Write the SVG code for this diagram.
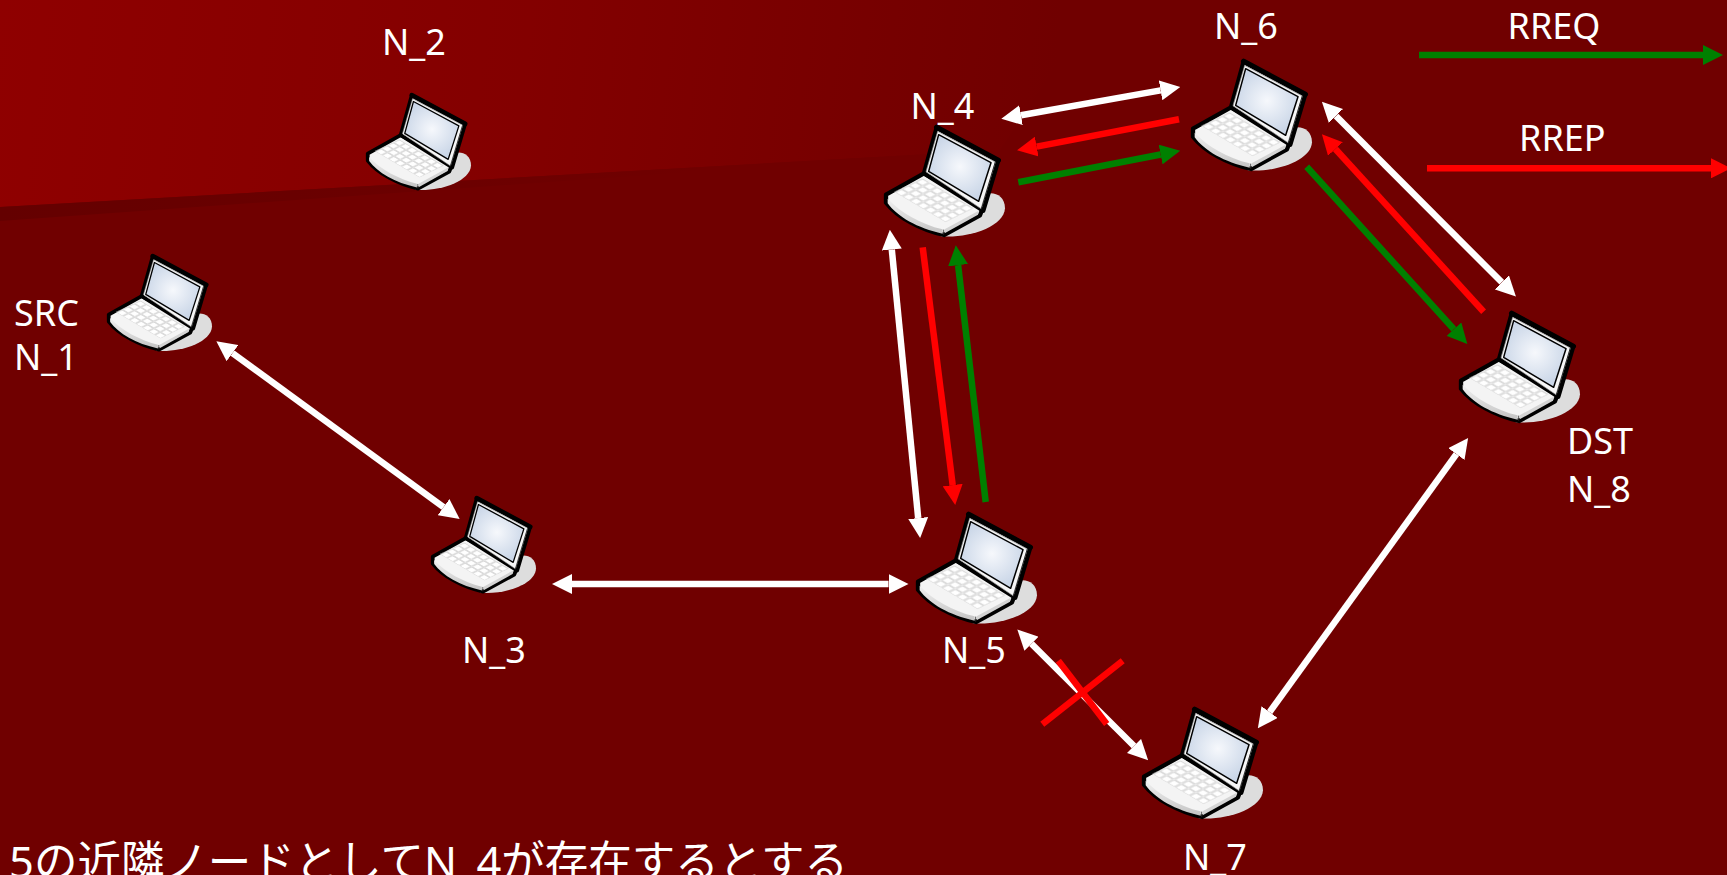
<svg xmlns="http://www.w3.org/2000/svg" width="1727" height="875" viewBox="0 0 1727 875">
<style>
.lb{font-family:"Noto Sans","Open Sans",sans-serif;font-size:36px;fill:#fff}
.w{stroke:#fff;stroke-width:6.5;fill:none;marker-start:url(#hw);marker-end:url(#hw)}
.r{stroke:#f00;stroke-width:6.5;fill:none;marker-end:url(#hr)}
.g{stroke:#008000;stroke-width:6.5;fill:none;marker-end:url(#hg)}
.x{stroke:#f00;stroke-width:6.5;fill:none}
.o{stroke:#000;stroke-linejoin:round;stroke-linecap:round}
</style>
<defs>
<linearGradient id="top" gradientUnits="userSpaceOnUse" x1="0" y1="0" x2="1050" y2="120">
<stop offset="0" stop-color="#8f0000"/><stop offset="0.5" stop-color="#830000"/><stop offset="1" stop-color="#700000"/>
</linearGradient>
<linearGradient id="band" gradientUnits="userSpaceOnUse" x1="0" y1="0" x2="700" y2="0">
<stop offset="0" stop-color="#640000"/><stop offset="1" stop-color="#700000"/>
</linearGradient>
<radialGradient id="scr" gradientUnits="userSpaceOnUse" cx="658" cy="330" r="100">
<stop offset="0" stop-color="#f6f8fc"/><stop offset="1" stop-color="#cbd7e8"/>
</radialGradient>
<linearGradient id="lip" x1="0" y1="0" x2="0" y2="1">
<stop offset="0" stop-color="#f0f0f0"/><stop offset="1" stop-color="#c4c4c4"/>
</linearGradient>
<pattern id="keys" patternUnits="userSpaceOnUse" width="1" height="1" patternTransform="matrix(22 13 -21 10.5 545 365)">
<rect x="0.1" y="0.1" width="0.8" height="0.8" fill="#fff" stroke="#c4c4c4" stroke-width="0.08"/>
</pattern>
<marker id="hw" markerUnits="userSpaceOnUse" markerWidth="20" markerHeight="20" refX="0" refY="10" orient="auto-start-reverse" viewBox="0 0 20 20"><path d="M0 0L20 10L0 20Z" fill="#fff"/></marker>
<marker id="hr" markerUnits="userSpaceOnUse" markerWidth="20" markerHeight="20" refX="0" refY="10" orient="auto" viewBox="0 0 20 20"><path d="M0 0L20 10L0 20Z" fill="#f00"/></marker>
<marker id="hg" markerUnits="userSpaceOnUse" markerWidth="20" markerHeight="20" refX="0" refY="10" orient="auto" viewBox="0 0 20 20"><path d="M0 0L20 10L0 20Z" fill="#008000"/></marker>
<g id="laptop" transform="scale(0.3333) translate(-430 -208)">
<path d="M600 539C680 546 790 512 793 455C793 425 772 410 750 410L600 500Z" fill="#ddd"/>
<path class="o" stroke-width="13" fill="#f4f4f4" d="M436 414L550 350L728 450L718 476L610 535C540 520 470 482 436 438Z"/>
<path d="M460 405L545 365L700 455L615 497Z" fill="url(#keys)"/>
<path d="M441 426C480 468 540 502 606 518L606 531C530 515 470 480 441 440Z" fill="url(#lip)"/>
<path d="M612 518L714 462L712 474L612 530Z" fill="#d4d4d4"/>
<path d="M609 519V534" stroke="#333" stroke-width="2.5"/>
<path class="o" stroke-width="13" fill="#e8e8e8" d="M588 213L773 311L728 462L550 350Z"/>
<path d="M588 212L773 311" stroke="#000" stroke-width="16" stroke-linecap="round"/>
<path d="M591 224L764 316L721 456L556 345Z" fill="#f6f6f6" stroke="#888" stroke-width="2"/>
<path stroke="#000" stroke-width="4.5" stroke-linejoin="round" fill="url(#scr)" d="M594 234L751 318L714 434L564 344Z"/>
<path d="M764 316L722 458" stroke="#222" stroke-width="3"/>
</g>
</defs>
<rect id="bg" width="1727" height="875" fill="#700000"/>
<path d="M0 0H1100V0L1000 150L0 207Z" fill="url(#top)"/>
<path d="M0 207L1000 150L0 221Z" fill="url(#band)"/>

<g id="connectors">
<path class="w" d="M1021 115.2L1160.6 90.4"/>
<path class="r" d="M1179 119.3L1036.7 146.6"/>
<path class="g" d="M1018.3 182.3L1160.6 154.5"/>
<path class="w" d="M1336 116L1501.8 282.3"/>
<path class="r" d="M1483.6 311.7L1335.4 149"/>
<path class="g" d="M1306.7 166.7L1453.9 329.2"/>
<path class="w" d="M891.8 249.6L918.2 518.1"/>
<path class="r" d="M922.7 247.3L952.7 485.1"/>
<path class="g" d="M985.7 502L958.1 265.2"/>
<path class="w" d="M232.5 353.1L443.5 507.1"/>
<path class="w" d="M572 584H888.5"/>
<path class="w" d="M1031.5 643.7L1134 746"/>
<path class="w" d="M1269.6 712.1L1456.4 454.1"/>
<path class="x" d="M1058.3 660.7L1106.7 724"/>
<path class="x" d="M1042.3 724.3L1122.7 660.7"/>
<path class="g" d="M1419 55H1703"/>
<path class="r" d="M1427 168.3H1711"/>
</g>

<g id="N_1"><use href="#laptop" transform="translate(107 255) scale(0.868)"/><text class="lb" x="14" y="325.5">SRC</text><text class="lb" x="14" y="369.5">N_1</text></g>
<g id="N_2"><use href="#laptop" transform="translate(366 94) scale(0.868)"/><text class="lb" x="382" y="55">N_2</text></g>
<g id="N_3"><use href="#laptop" transform="translate(431 497) scale(0.868)"/><text class="lb" x="462" y="663">N_3</text></g>
<g id="N_4"><use href="#laptop" transform="translate(884 126)"/><text class="lb" x="910.5" y="118.7">N_4</text></g>
<g id="N_5"><use href="#laptop" transform="translate(916 513)"/><text class="lb" x="942" y="663">N_5</text></g>
<g id="N_6"><use href="#laptop" transform="translate(1191 60)"/><text class="lb" x="1214" y="39">N_6</text></g>
<g id="N_7"><use href="#laptop" transform="translate(1142 708)"/><text class="lb" x="1183" y="869.5">N_7</text></g>
<g id="N_8"><use href="#laptop" transform="translate(1459 312)"/><text class="lb" x="1567" y="454">DST</text><text class="lb" x="1567" y="502">N_8</text></g>

<g id="legend"><text class="lb" x="1507.5" y="39">RREQ</text><text class="lb" x="1519" y="151">RREP</text></g>
<text x="9" y="878" font-family="'Noto Sans','Noto Sans CJK JP',sans-serif" font-size="44" fill="#fff" textLength="839" lengthAdjust="spacingAndGlyphs">5の近隣ノードとしてN_4が存在するとする</text>
</svg>
